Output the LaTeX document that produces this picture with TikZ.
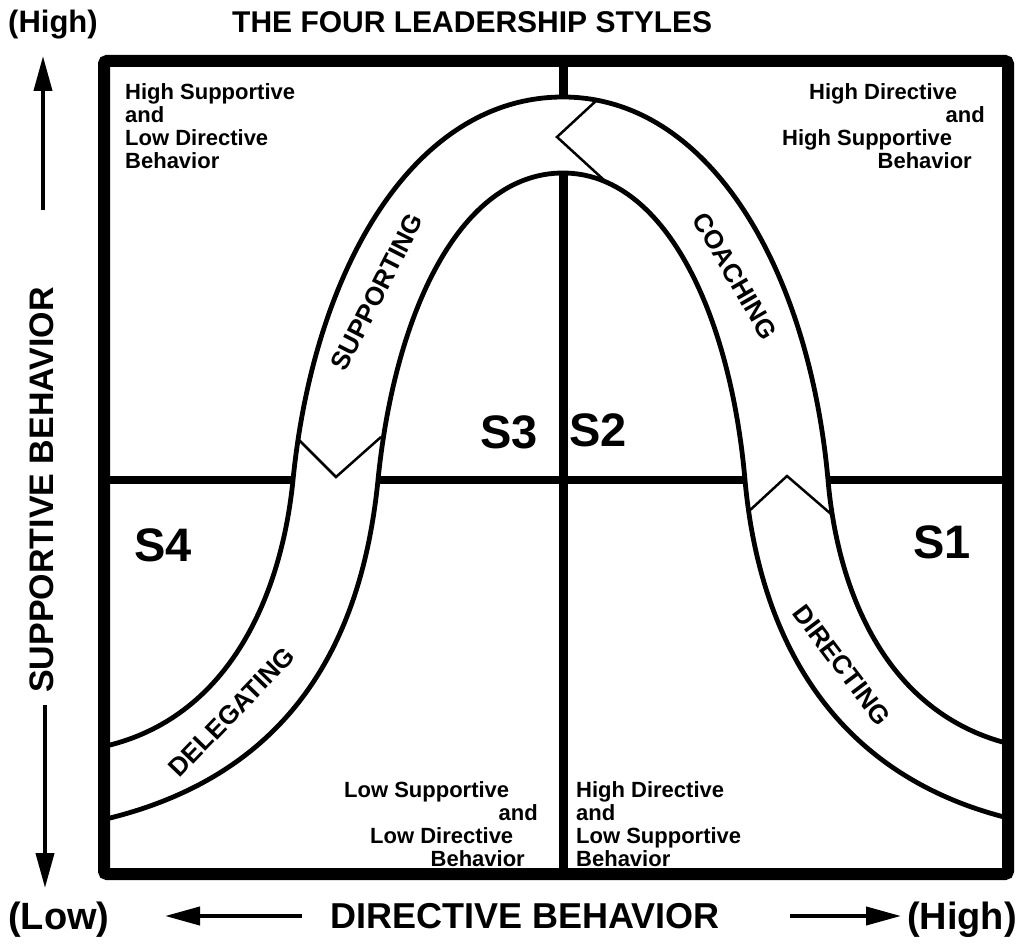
\documentclass[tikz,border=0pt]{standalone}
\usepackage{fontspec}
\setmainfont{Liberation Sans}
\usetikzlibrary{arrows.meta}
\begin{document}
\begin{tikzpicture}[x=1pt,y=-1pt,
  qtext/.style={font=\fontsize{22}{24}\selectfont\bfseries, inner sep=0pt},
  slabel/.style={font=\fontsize{47}{52}\selectfont\bfseries, inner sep=0pt},
  bandlabel/.style={font=\fontsize{26}{30}\selectfont\bfseries, inner sep=0pt},
  axislabel/.style={font=\fontsize{36}{40}\selectfont\bfseries, inner sep=0pt},
  endlabel/.style={font=\fontsize{38}{42}\selectfont\bfseries, inner sep=0pt},
  titlelabel/.style={font=\fontsize{30}{36}\selectfont\bfseries, inner sep=0pt},
  bandedge/.style={line width=4.8pt},
  zig/.style={line width=2.5pt, line join=miter},
  axisarrow/.style={line width=4pt, -{Triangle[length=35pt,width=18pt]}},
  framebox/.style={line width=12pt, rounded corners=3pt},
  divider/.style={line width=9pt}
]
\useasboundingbox (0,0) rectangle (1023,952);
\fill[white] (0,0) rectangle (1023,952);

% dividers
\coordinate (vtop) at (563,61);
\coordinate (vbot) at (563,874);
\coordinate (hleft) at (104,480);
\coordinate (hright) at (1008,480);
\draw[divider] (vtop) -- (vbot);
\draw[divider, line width=8pt] (hleft) -- (hright);

% band
\begin{scope}
\clip (110,67) rectangle (1002,868);
\fill[white] (80,752.65) -- (110,745) .. controls (230,714.4) and (281.5,595) .. (293,480)
  .. controls (314,268.5) and (414,97) .. (563,97)
  .. controls (709,97) and (809,268.5) .. (828,480)
  .. controls (838,595) and (888,713) .. (1008,743.5) -- (1038,751.15)
  -- (1038,825.5) -- (1008,818) .. controls (823,771.75) and (758,625) .. (745,480)
  .. controls (730,310.5) and (663.5,173) .. (563,173)
  .. controls (461,173) and (395,310.5) .. (378,480)
  .. controls (363,630) and (300,770.5) .. (110,818) -- (80,825.5) -- cycle;
\draw[bandedge] (80,752.65) -- (110,745) .. controls (230,714.4) and (281.5,595) .. (293,480)
  .. controls (314,268.5) and (414,97) .. (563,97)
  .. controls (709,97) and (809,268.5) .. (828,480)
  .. controls (838,595) and (888,713) .. (1008,743.5) -- (1038,751.15);
\draw[bandedge] (80,825.5) -- (110,818) .. controls (300,770.5) and (363,630) .. (378,480)
  .. controls (395,310.5) and (461,173) .. (563,173)
  .. controls (663.5,173) and (730,310.5) .. (745,480)
  .. controls (758,625) and (823,771.75) .. (1008,818) -- (1038,825.5);
\end{scope}

% zigzag marks
\draw[zig] (597,100) -- (557,137) -- (604,180);
\draw[zig] (297,438) -- (336,477) -- (381,437);
\draw[zig] (748,512) -- (787,476) -- (831,514);

% frame
\draw[framebox] (104,61) rectangle (1008,874);

% title and axes
\node[titlelabel, anchor=base west] (title) at (232,33) {THE FOUR LEADERSHIP STYLES};
\node[font=\fontsize{31}{36}\selectfont\bfseries, inner sep=0pt, anchor=base west] (hightop) at (8,33) {(High)};
\node[endlabel, anchor=base west] (low) at (8,929) {(Low)};
\node[endlabel, anchor=base east] (highbot) at (1017,929) {(High)};
\node[axislabel, anchor=base west] (dirb) at (330,928) {DIRECTIVE BEHAVIOR};
\node[font=\fontsize{34}{38}\selectfont\bfseries, inner sep=0pt, rotate=90] (supb) at (42,490) {SUPPORTIVE BEHAVIOR};

\coordinate (upA) at (43,210);
\coordinate (upB) at (43,56);
\coordinate (dnA) at (45,705);
\coordinate (dnB) at (45,888);
\coordinate (lfA) at (302,916);
\coordinate (lfB) at (165,916);
\coordinate (rtA) at (790,916);
\coordinate (rtB) at (901,916);
\draw[axisarrow] (upA) -- (upB);
\draw[axisarrow] (dnA) -- (dnB);
\draw[axisarrow] (lfA) -- (lfB);
\draw[axisarrow] (rtA) -- (rtB);

% quadrant texts
\node[qtext, anchor=base west] (tl1) at (125,100) {High Supportive};
\node[qtext, anchor=base west] (tl2) at (125,123) {and};
\node[qtext, anchor=base west] (tl3) at (125,146) {Low Directive};
\node[qtext, anchor=base west] (tl4) at (125,169) {Behavior};

\node[qtext, anchor=base west] (tr1) at (809,100) {High Directive};
\node[qtext, anchor=base east] (tr2) at (985,123) {and};
\node[qtext, anchor=base west] (tr3) at (782,146) {High Supportive};
\node[qtext, anchor=base east] (tr4) at (972,169) {Behavior};

\node[qtext, anchor=base west] (bl1) at (344,797) {Low Supportive};
\node[qtext, anchor=base east] (bl2) at (538,820) {and};
\node[qtext, anchor=base west] (bl3) at (370,843) {Low Directive};
\node[qtext, anchor=base east] (bl4) at (525,866) {Behavior};

\node[qtext, anchor=base west] (br1) at (576,797) {High Directive};
\node[qtext, anchor=base west] (br2) at (576,820) {and};
\node[qtext, anchor=base west] (br3) at (576,843) {Low Supportive};
\node[qtext, anchor=base west] (br4) at (576,866) {Behavior};

% S labels
\node[slabel] (s3) at (509,432) {S3};
\node[slabel] (s2) at (598,430) {S2};
\node[slabel] (s4) at (163,545) {S4};
\node[slabel] (s1) at (942,542) {S1};

% band labels
\node[bandlabel, rotate=63] (supp) at (377,292) {SUPPORTING};
\node[bandlabel, rotate=-60] (coach) at (735,276) {COACHING};
\node[bandlabel, rotate=46] (deleg) at (232,712) {DELEGATING};
\node[bandlabel, rotate=-53] (direct) at (842,665) {DIRECTING};
\end{tikzpicture}
\end{document}
